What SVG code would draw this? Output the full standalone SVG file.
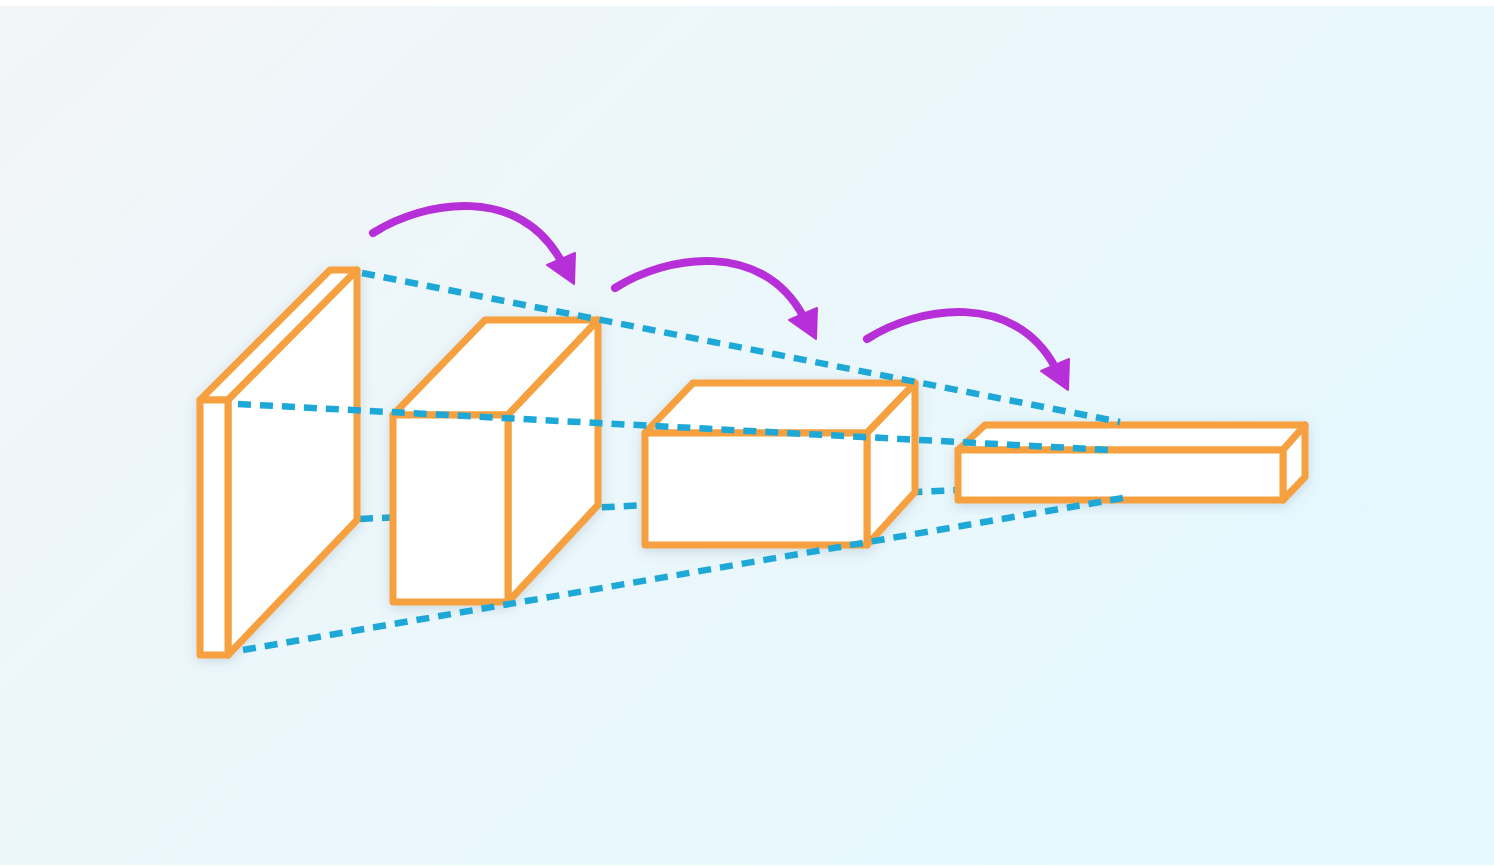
<svg xmlns="http://www.w3.org/2000/svg" width="1494" height="866" viewBox="0 0 1494 866">
<defs>
<linearGradient id="bg" x1="0" y1="0" x2="1" y2="0.6">
<stop offset="0" stop-color="#f3f5f7"/>
<stop offset="0.5" stop-color="#ebf7fb"/>
<stop offset="1" stop-color="#e5f8fe"/>
</linearGradient>
<filter id="sh" x="-20%" y="-20%" width="140%" height="140%">
<feDropShadow dx="0" dy="3" stdDeviation="6" flood-color="#5a7080" flood-opacity="0.22"/>
</filter>
<g id="arrow">
<path d="M373,233 C425,200 520,185 561,261" fill="none" stroke="#b72fd8" stroke-width="8" stroke-linecap="round"/>
<polygon points="547,265 575,253 574,284" fill="#b72fd8" stroke="#b72fd8" stroke-width="2" stroke-linejoin="round"/>
</g>
</defs>
<style>
.box polygon, .box rect { fill: #ffffff; stroke: #f6a03f; stroke-width: 7; stroke-linejoin: round; }
.dash { fill: none; stroke: #1ea8d8; stroke-width: 6.5; stroke-dasharray: 13 9; }
</style>
<rect x="0" y="0" width="1494" height="866" fill="#ffffff"/>
<rect x="0" y="6" width="1494" height="859" fill="url(#bg)"/>

<g id="connectors-back">
<line class="dash" x1="360" y1="519" x2="958" y2="490"/>
</g>

<g id="box1" class="box" filter="url(#sh)">
<polygon points="200,400 330,270 357,270 228,400"/>
<polygon points="228,400 357,270 357,520 228,655"/>
<rect x="200" y="400" width="28" height="255"/>
</g>
<g id="box2" class="box" filter="url(#sh)">
<polygon points="393,415 485,320 598,320 508,415"/>
<polygon points="508,415 598,320 598,505 508,602"/>
<rect x="393" y="415" width="115" height="187"/>
</g>
<g id="box3" class="box" filter="url(#sh)">
<polygon points="645,433 693,383 915,383 867,433"/>
<polygon points="867,433 915,383 915,492 867,545"/>
<rect x="645" y="433" width="222" height="112"/>
</g>
<g id="box4" class="box" filter="url(#sh)">
<polygon points="958,450 985,425 1305,425 1283,450"/>
<polygon points="1283,450 1305,425 1305,477 1283,500"/>
<rect x="958" y="450" width="325" height="50"/>
</g>

<g id="connectors">
<line class="dash" x1="362" y1="273" x2="1120" y2="422"/>
<line class="dash" x1="238" y1="404" x2="1110" y2="450"/>
<line class="dash" x1="243" y1="650" x2="1123" y2="498"/>
</g>

<g id="arrows">
<use href="#arrow"/>
<use href="#arrow" transform="translate(242,55)"/>
<use href="#arrow" transform="translate(494,106)"/>
</g>
</svg>
